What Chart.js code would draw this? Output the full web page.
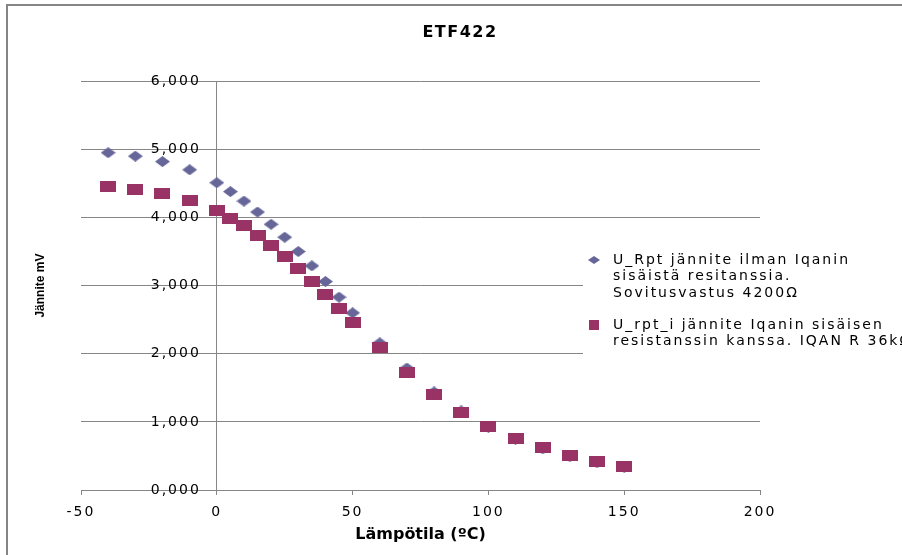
<!DOCTYPE html>
<html>
<head>
<meta charset="utf-8">
<script src="https://cdn.jsdelivr.net/npm/chart.js@4/dist/chart.umd.min.js"></script>
<style>
  html, body { margin: 0; padding: 0; background: #fff; }
  canvas { display: block; }
</style>
</head>
<body>
<canvas id="chart" width="902" height="555"></canvas>
<script>
// data
const temps = [-40, -30, -20, -10, 0, 5, 10, 15, 20, 25, 30, 35, 40, 45, 50, 60, 70, 80, 90, 100, 110, 120, 130, 140, 150];
const uRpt  = [4950, 4900, 4820, 4700, 4510, 4380, 4240, 4080, 3900, 3710, 3500, 3290, 3060, 2830, 2600, 2160, 1790, 1440, 1160, 920, 745, 605, 490, 400, 335];
const uRptI = [4460, 4410, 4350, 4250, 4100, 3990, 3880, 3740, 3590, 3420, 3250, 3060, 2870, 2670, 2460, 2090, 1720, 1400, 1140, 930, 758, 620, 505, 411, 342];
const seriesNames = [
    ["U_Rpt jännite ilman Iqanin", "sisäistä resitanssia.", "Sovitusvastus 4200Ω"],
    ["U_rpt_i jännite Iqanin sisäisen", "resistanssin kanssa. IQAN R 36kΩ"]
];
const xTicks = [-50, 0, 50, 100, 150, 200];
const yTicks = [0, 1000, 2000, 3000, 4000, 5000, 6000];

const COL_DIAMOND = "#666699";
const COL_SQUARE = "#993366";
const GRID = "#868686";

// marker images (Excel markers are a bit wider than tall)
function diamond(w, h, color) {
    const c = document.createElement("canvas");
    c.width = w; c.height = h;
    const g = c.getContext("2d");
    g.fillStyle = color;
    g.beginPath();
    g.moveTo(w / 2, 0); g.lineTo(w, h / 2); g.lineTo(w / 2, h); g.lineTo(0, h / 2);
    g.closePath();
    g.fill();
    return c;
}
function square(w, h, color) {
    const c = document.createElement("canvas");
    c.width = w; c.height = h;
    const g = c.getContext("2d");
    g.fillStyle = color;
    g.fillRect(0, 0, w, h);
    return c;
}
const pointMarks = [diamond(15, 11, COL_DIAMOND), square(16, 11, COL_SQUARE)];
const legendMarks = [diamond(12, 8, COL_DIAMOND), square(10, 10, COL_SQUARE)];
const colors = [COL_DIAMOND, COL_SQUARE];

//"6,000" style labels (decimal comma)
const yLabel = (v) => (v / 1000).toFixed(3).replace(".", ",");

// wrap a draw method so its text gets letter spacing (and an optional x shift)
function spaced(obj, name, sp, dx) {
    if (!obj || obj["_sp_" + name]) return;
    obj["_sp_" + name] = true;
    const orig = obj[name];
    obj[name] = function () {
        const c = this.ctx;
        c.save();
        c.letterSpacing = sp;
        if (dx) c.translate(dx, 0);
        orig.apply(this, arguments);
        c.restore();
    };
}

const excelLook = {
    id: "excelLook",
    afterLayout(chart) {
        // legend overlays the plot like in Excel
        const lg = chart.legend;
        lg.left = 567; lg.top = 238; lg.right = 902; lg.bottom = 555;
        lg.width = lg.right - lg.left; lg.height = lg.bottom - lg.top;
        if (!lg._moved) {
            lg._moved = true;
            lg._origDraw = lg.draw;
            lg.draw = function () {};
        }
        spaced(chart.scales.x, "drawLabels", "2px", 0);
        spaced(chart.scales.y, "drawLabels", "2px", -16);
        spaced(chart.titleBlock, "draw", "1.5px", 0);
    },
    beforeDraw(chart) {
        const ctx = chart.ctx;
        ctx.save();
        ctx.strokeStyle = "#858585";
        ctx.lineWidth = 2;
        ctx.strokeRect(7, 5, 1200, 800);
        ctx.restore();
    },
    beforeDatasetsDraw(chart) {
        const ctx = chart.ctx;
        const lg = chart.legend;
        ctx.save();
        ctx.fillStyle = "#ffffff";
        ctx.fillRect(583, 240, 330, 122);
        ctx.letterSpacing = "2px";
        lg._origDraw.call(lg);
        ctx.restore();
    }
};

new Chart(document.getElementById("chart"), {
    type: "scatter",
    data: {
        datasets: [
            {
                label: seriesNames[0].join(" "),
                data: temps.map((t, i) => ({ x: t, y: uRpt[i] })),
                pointStyle: pointMarks[0],
                pointRadius: 6,
                backgroundColor: COL_DIAMOND,
                borderColor: COL_DIAMOND,
                order: 2
            },
            {
                label: seriesNames[1].join(" "),
                data: temps.map((t, i) => ({ x: t, y: uRptI[i] })),
                pointStyle: pointMarks[1],
                pointRadius: 6,
                backgroundColor: COL_SQUARE,
                borderColor: COL_SQUARE,
                order: 1
            }
        ]
    },
    options: {
        responsive: false,
        animation: false,
        devicePixelRatio: 1,
        layout: { padding: { left: 18, right: 0, top: 0, bottom: 0 } },
        plugins: {
            tooltip: { enabled: false },
            title: {
                display: true,
                text: "ETF422",
                color: "#000",
                font: { family: "DejaVu Sans", size: 16, weight: "bold" },
                padding: { top: 23, bottom: 39 }
            },
            legend: {
                position: "chartArea",
                align: "start",
                labels: {
                    usePointStyle: true,
                    pointStyleWidth: 24,
                    boxHeight: 10,
                    padding: 15,
                    color: "#000",
                    font: { family: "DejaVu Sans", size: 14, lineHeight: 1.19 },
                    generateLabels: () => seriesNames.map((t, i) => ({
                        text: t,
                        fillStyle: colors[i],
                        strokeStyle: colors[i],
                        fontColor: "#000",
                        lineWidth: 0,
                        pointStyle: legendMarks[i],
                        hidden: false,
                        datasetIndex: i
                    }))
                }
            }
        },
        scales: {
            x: {
                type: "linear",
                min: xTicks[0],
                max: xTicks[xTicks.length - 1],
                afterBuildTicks: (s) => { s.ticks = xTicks.map(v => ({ value: v })); },
                ticks: { color: "#000", font: { family: "DejaVu Sans", size: 14 }, padding: 9, maxRotation: 0 },
                grid: { drawOnChartArea: false, drawTicks: true, tickLength: 5, color: GRID },
                border: { color: GRID, width: 1 },
                title: {
                    display: true,
                    text: "Lämpötila (ºC)",
                    color: "#000",
                    font: { family: "DejaVu Sans", size: 16, weight: "bold" },
                    padding: { top: 0, bottom: 11 }
                },
                afterFit: (s) => { s.height = 65; }
            },
            y: {
                type: "linear",
                position: { x: 0 },
                min: yTicks[0],
                max: yTicks[yTicks.length - 1],
                afterBuildTicks: (s) => { s.ticks = yTicks.map(v => ({ value: v })); },
                ticks: { color: "#000", font: { family: "DejaVu Sans", size: 14 }, padding: 11, callback: (v) => yLabel(v) },
                grid: { color: GRID, tickLength: 5 },
                border: { color: GRID, width: 1 }
            },
            yTitle: {
                type: "linear",
                axis: "y",
                position: "left",
                grid: { display: false },
                border: { display: false },
                ticks: { display: false },
                title: {
                    display: true,
                    text: "Jännite mV",
                    color: "#000",
                    font: { family: "Liberation Sans", size: 12, weight: "bold" },
                    padding: { top: 15, bottom: 0 }
                },
                afterFit: (s) => { s.width = 63; }
            },
            yPad: {
                type: "linear",
                axis: "y",
                position: "right",
                grid: { display: false },
                border: { display: false },
                ticks: { display: false },
                afterFit: (s) => { s.width = 142; }
            }
        }
    },
    plugins: [excelLook]
});
</script>
</body>
</html>
